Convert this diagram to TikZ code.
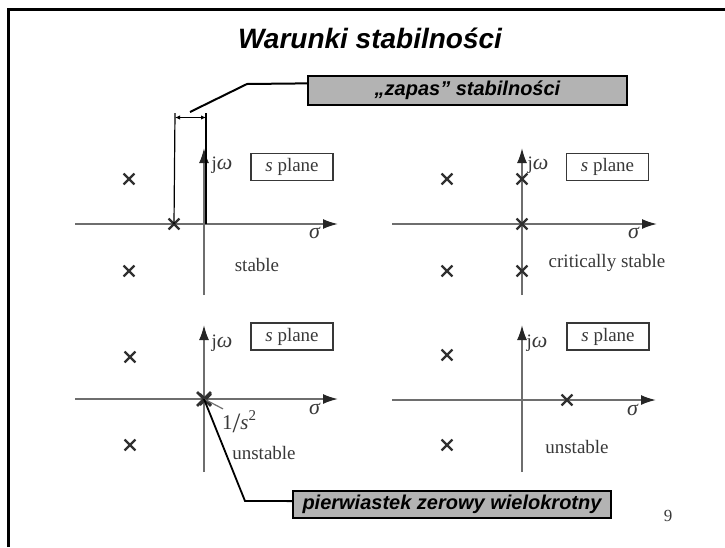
\documentclass[tikz,border=0pt]{standalone}
\usepackage{fontspec}
\setmainfont{Liberation Serif}
\newfontfamily\arialf{Liberation Sans}
\usetikzlibrary{arrows.meta,shapes.misc,calc}
\definecolor{axisgray}{HTML}{6E6E6E}
\definecolor{polecol}{HTML}{303030}
\definecolor{labcol}{HTML}{383838}
\definecolor{calloutgray}{HTML}{B3B3B3}
\newcommand{\gk}[1]{{\fontsize{22}{22}\selectfont\textit{#1}}}
\begin{document}
\begin{tikzpicture}[x=1pt,y=-1pt,
  axis/.style={draw=axisgray, line width=1.8pt, -{Latex[length=15pt,width=10pt,color=black!85]}},
  pole/.style={cross out, draw=polecol, line width=2.3pt, minimum size=8.5pt, inner sep=0pt},
  lab/.style={text=labcol, font=\fontsize{19}{22}\selectfont, inner sep=0pt},
  sbox/.style={draw=labcol, line width=1.1pt, minimum width=82pt, minimum height=27pt, inner sep=0pt, text=labcol, font=\fontsize{19}{22}\selectfont},
  callout/.style={fill=calloutgray, draw=black, line width=2pt, inner sep=0pt, font=\arialf\bfseries\itshape\fontsize{20}{24}\selectfont},
  leader/.style={draw=black, line width=2pt},
  meas/.style={draw=black, line width=1.2pt}
]
\useasboundingbox (0,0) rectangle (725,547);
% frame
\draw[line width=2.7pt] (8.3,547) -- (8.3,9.3) -- (725,9.3);
% title
\node[anchor=base, inner sep=0pt, font=\arialf\bfseries\itshape\fontsize{28}{32}\selectfont] (title) at (370,48) {Warunki stabilności};

% ---------- top-left: stable ----------
\begin{scope}[shift={(204,224)}]
  \coordinate (tlo) at (0,0);
  \draw[axis] (-129,0) -- (134,0);
  \draw[axis] (0,71) -- (0,-76);
  \node[lab] (tljw) at (18,-59) {j\gk{ω}};
  \node[sbox] (tlbox) at (88,-57) {\textit{s} plane};
  \node[lab] (tlsig) at (111,9) {\gk{σ}};
  \node[lab] (tlst) at (53,41) {stable};
  \node[pole] (tlp1) at (-75,-45) {};
  \node[pole] (tlp2) at (-75,47) {};
  \node[pole] (tlp3) at (-30,0) {};
\end{scope}

% ---------- top-right: critically stable ----------
\begin{scope}[shift={(522,224)}]
  \coordinate (tro) at (0,0);
  \draw[axis] (-130,0) -- (135,0);
  \draw[axis] (0,71) -- (0,-76);
  \node[lab] (trjw) at (16,-59) {j\gk{ω}};
  \node[sbox] (trbox) at (85.5,-57) {\textit{s} plane};
  \node[lab] (trsig) at (112,9) {\gk{σ}};
  \node[lab] (trst) at (85,39) {critically stable};
  \node[pole] (trp1) at (-75,-45) {};
  \node[pole] (trp2) at (-75,47) {};
  \node[pole] (trp3) at (0,-45) {};
  \node[pole] (trp4) at (0,0) {};
  \node[pole] (trp5) at (0,47) {};
\end{scope}

% ---------- bottom-left: unstable, double pole ----------
\begin{scope}[shift={(204,399)}]
  \coordinate (blo) at (0,0);
  \draw[axis] (-129,0) -- (134,0);
  \draw[axis] (0,73) -- (0,-74);
  \node[lab] (bljw) at (18,-56) {j\gk{ω}};
  \node[sbox] (blbox) at (88,-62.5) {\textit{s} plane};
  \node[lab] (blsig) at (111,10) {\gk{σ}};
  \node[lab] (blst) at (60,54) {unstable};
  \node[pole] (blp1) at (-74,-42) {};
  \node[pole] (blp2) at (-74,46) {};
  \node[pole, line width=2.8pt, minimum size=11pt] (dp) at (0,0) {};
  \node[pole, line width=2.2pt, minimum size=9pt] (dpb) at (1.5,0.5) {};
  \node[lab, anchor=base west, font=\fontsize{21}{22}\selectfont] (lbl) at (18,30) {1\raisebox{-3pt}{\fontsize{28}{28}\selectfont/}\textit{s}\raisebox{9pt}{\fontsize{15}{15}\selectfont 2}};
\end{scope}
\draw[draw=axisgray, line width=1.2pt] (dp.center) -- ($(lbl.north west)+(1,-1)$);

% ---------- bottom-right: unstable ----------
\begin{scope}[shift={(522,400)}]
  \coordinate (bro) at (0,0);
  \draw[axis] (-130,0) -- (134,0);
  \draw[axis] (0,72) -- (0,-75);
  \node[lab] (brjw) at (15,-57) {j\gk{ω}};
  \node[sbox] (brbox) at (86,-63.5) {\textit{s} plane};
  \node[lab] (brsig) at (111,10) {\gk{σ}};
  \node[lab] (brst) at (55,47) {unstable};
  \node[pole] (brp1) at (-75,-45) {};
  \node[pole] (brp2) at (-75,45) {};
  \node[pole] (brp3) at (45,0) {};
\end{scope}

% ---------- stability margin ----------
\coordinate (ma0) at (175,113);
\coordinate (mb0) at (206,113);
\coordinate (mb1) at (206,224);
\coordinate (ma) at (175,117.5);
\coordinate (mb) at (206,117.5);
\draw[meas] (ma0) -- (tlp3.center);
\draw[meas] (mb0) -- (mb1);
\draw[meas, {Latex[length=5pt,width=4.5pt]}-{Latex[length=5pt,width=4.5pt]}] (ma) -- (mb);

% ---------- callouts ----------
\node[callout, minimum width=319pt, minimum height=29pt] (zb) at (467.5,90.5) {„zapas” stabilności};
\coordinate (lk1) at (247,84);
\coordinate (lk2) at (190,112);
\draw[leader] ($(zb.north west)!0.27!(zb.south west)$) -- (lk1) -- (lk2);

\node[callout, minimum width=318pt, minimum height=27pt] (bb) at (452,504) {pierwiastek zerowy wielokrotny};
\coordinate (bk1) at (245,501);
\draw[leader, line width=1.8pt] (dp.center) -- (bk1) -- ($(bb.north west)!0.4!(bb.south west)$);

% page number
\node[text=labcol, inner sep=0pt, font=\fontsize{17}{19}\selectfont] (pg) at (668,516) {9};
\end{tikzpicture}
\end{document}
